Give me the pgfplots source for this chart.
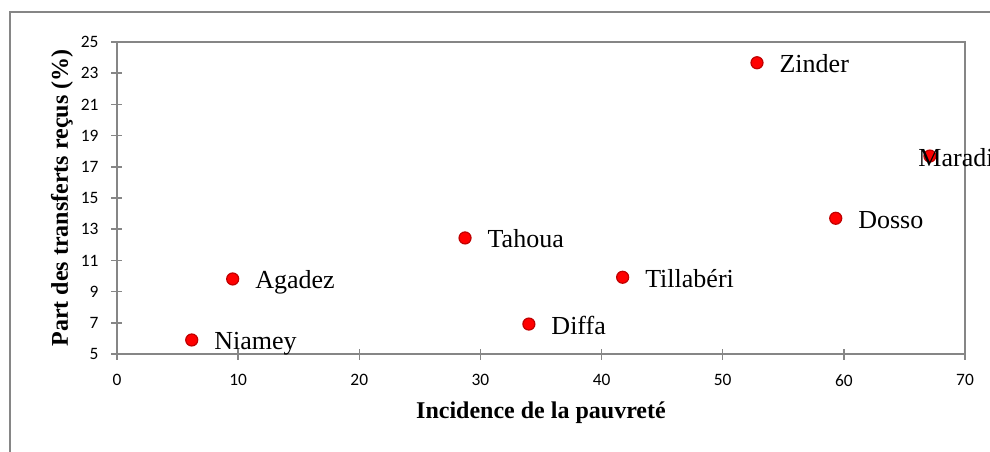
\documentclass[border=0pt]{standalone}
\usepackage{pgfplots}
\pgfplotsset{compat=1.18}
\usepackage{fontspec}
\setmainfont{Liberation Serif}
\newfontfamily\calibri{Carlito}
\definecolor{axgray}{RGB}{134,134,134}
\definecolor{mborder}{RGB}{192,0,0}
\begin{document}
\begin{tikzpicture}
\useasboundingbox (-58.5pt,-48.5pt) rectangle (436.5pt,177pt);
\draw[axgray, line width=0.6pt] (-53.5pt,-60pt) -- (-53.5pt,171pt) -- (450pt,171pt);
\begin{axis}[
  at={(0,0)}, anchor=south west,
  scale only axis, width=424pt, height=156pt,
  xmin=0, xmax=70, ymin=5, ymax=25,
  xtick={0,10,...,70}, ytick={5,7,...,25},
  axis line style={axgray, line width=0.75pt},
  tick style={axgray, line width=0.75pt},
  tick align=center, major tick length=5.5pt,
  xtick pos=bottom, ytick pos=left,
  ticklabel style={font=\calibri\fontsize{8.7}{10}\selectfont, text=black},
  xticklabel style={yshift=-4pt},
  yticklabel style={xshift=-3pt},
  /pgf/number format/assume math mode=true,
  xlabel={\textbf{Incidence de la pauvreté}},
  ylabel={\textbf{Part des transferts reçus (\%)}},
  label style={font=\fontsize{12}{14}\selectfont},
  xlabel style={at={(axis description cs:0.5,-0.189)}, anchor=center},
  ylabel style={at={(axis description cs:-0.0649,0.5)}, anchor=center},
  clip=false,
]
\addplot[only marks, mark=*, mark size=3pt,
  mark options={fill=red, draw=mborder, line width=0.6pt},
  nodes near coords, point meta=explicit symbolic,
  nodes near coords style={anchor=base west, inner sep=0pt, xshift=11pt, yshift=-5pt,
    font=\fontsize{13}{15}\selectfont, text=black}]
table[meta=label] {
x y label
6.17 5.90 Niamey
9.55 9.81 Agadez
28.73 12.44 Tahoua
34.0 6.92 Diffa
41.74 9.92 Tillabéri
52.83 23.67 Zinder
59.33 13.70 Dosso
};
\addplot[only marks, mark=*, mark size=3pt,
  mark options={fill=red, draw=mborder, line width=0.6pt},
  nodes near coords, point meta=explicit symbolic,
  nodes near coords style={anchor=base west, inner sep=0pt, xshift=-6pt, yshift=-5pt,
    font=\fontsize{13}{15}\selectfont, text=black}]
table[meta=label] {
x y label
67.1 17.69 Maradi
};
\end{axis}
\end{tikzpicture}
\end{document}
